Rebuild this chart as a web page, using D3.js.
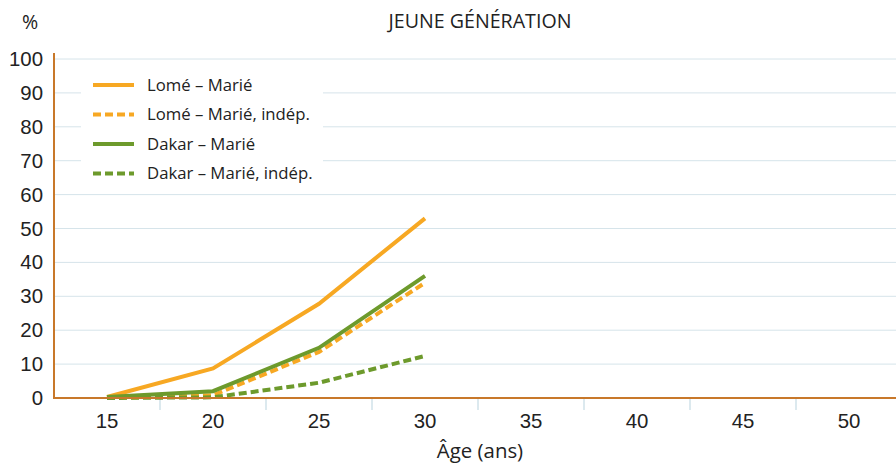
<!DOCTYPE html>
<html><head><meta charset="utf-8">
<script src="https://cdn.jsdelivr.net/npm/d3@7/dist/d3.min.js"></script>
<style>body{margin:0;background:#fff}svg{display:block;font-family:"Open Sans","Noto Sans",sans-serif}</style>
</head><body><svg id="c" width="896" height="463"></svg>
<script>
const ages = ["15","20","25","30","35","40","45","50"];
const yTicks = [0,10,20,30,40,50,60,70,80,90,100];
const lomeMarie = [0.3, 8.7, 27.8, 53];
const lomeIndep = [0, 0.8, 13.6, 34];
const dakarMarie = [0.3, 2, 14.8, 36];
const dakarIndep = [0, 0.2, 4.5, 12.4];
const seriesNames = ["Lomé – Marié","Lomé – Marié, indép.","Dakar – Marié","Dakar – Marié, indép."];
const seriesData = [lomeMarie, lomeIndep, dakarMarie, dakarIndep];
const seriesColors = ["#F7A823","#F7A823","#6D9A2C","#6D9A2C"];
const seriesDash = [null,"8,4",null,"8,4"];

const svg = d3.select("#c");
// measure helper: font size giving a target width
function fitSize(txt, target){
  const t = svg.append("text").attr("font-size",100).text(txt);
  const w = t.node().getComputedTextLength(); t.remove();
  return 100*target/w;
}
const tickFs = fitSize("100", 35);
const legFs = fitSize("Lomé – Marié, indép.", 163);
const titleFs = fitSize("JEUNE GÉNÉRATION", 183);

const x = d3.scaleBand().domain(ages).range([54, 902]).padding(0);
const y = d3.scaleLinear().domain([0,100]).range([398, 59]);

svg.append("g").selectAll("line").data(yTicks.filter(d=>d>0)).join("line")
  .attr("x1",54).attr("x2",896).attr("y1",d=>y(d)).attr("y2",d=>y(d))
  .attr("stroke","#D6E4EA").attr("stroke-width",1);

const xa = svg.append("g").attr("transform","translate(0,398)")
  .call(d3.axisBottom(x).tickSize(0).tickPadding(16));
xa.select(".domain").remove();
xa.selectAll("text").attr("font-size",tickFs).attr("fill","#222").attr("font-family","inherit");
svg.append("g").selectAll("line").data(ages.slice(1)).join("line")
  .attr("x1",d=>x(d)).attr("x2",d=>x(d)).attr("y1",398).attr("y2",410)
  .attr("stroke","#B9D3DE").attr("stroke-width",1);

const ya = svg.append("g").attr("transform","translate(54,0)")
  .call(d3.axisLeft(y).tickValues(yTicks).tickSize(0).tickPadding(11));
ya.select(".domain").remove();
ya.selectAll("text").attr("font-size",tickFs).attr("fill","#222").attr("font-family","inherit");

svg.append("rect").attr("x",81).attr("y",63).attr("width",242).attr("height",122).attr("fill","#fff");

const line = d3.line().x((d,i)=>x(ages[i])+x.bandwidth()/2).y(d=>y(d));
seriesData.forEach((s,k)=>{
  svg.append("path").attr("d",line(s)).attr("fill","none")
    .attr("stroke",seriesColors[k]).attr("stroke-width",4)
    .attr("stroke-dasharray",seriesDash[k]);
});

svg.append("line").attr("x1",54).attr("x2",896).attr("y1",398).attr("y2",398)
  .attr("stroke","#C8782A").attr("stroke-width",2);
svg.append("line").attr("x1",54).attr("x2",54).attr("y1",53).attr("y2",399)
  .attr("stroke","#C8782A").attr("stroke-width",2);

const lg = svg.append("g");
seriesNames.forEach((n,k)=>{
  const yy = 85 + k*29.5;
  lg.append("line").attr("x1",93).attr("x2",134).attr("y1",yy).attr("y2",yy)
    .attr("stroke",seriesColors[k]).attr("stroke-width",4).attr("stroke-dasharray",seriesDash[k]);
  lg.append("text").attr("x",147).attr("y",yy+5.5).attr("font-size",legFs).attr("fill","#222").text(n);
});

svg.append("text").attr("x",480).attr("y",28).attr("text-anchor","middle").attr("font-size",titleFs).attr("fill","#222").text("JEUNE GÉNÉRATION");
svg.append("text").attr("x",30).attr("y",29).attr("text-anchor","middle").attr("font-size",titleFs).attr("fill","#222").text("%");
svg.append("text").attr("x",480).attr("y",458).attr("text-anchor","middle").attr("font-size",tickFs).attr("fill","#222").text("Âge (ans)");
</script></body></html>
